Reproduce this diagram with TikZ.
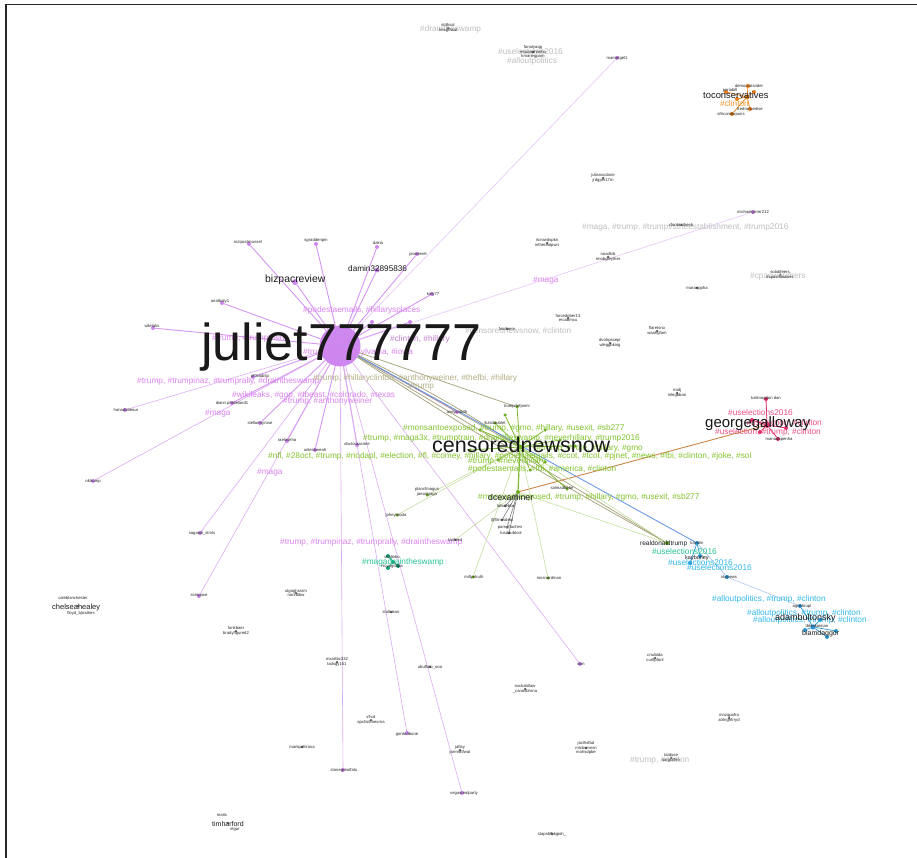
\documentclass[tikz,border=0pt]{standalone}
\usepackage{fontspec}
\setmainfont{Liberation Sans}
\usetikzlibrary{backgrounds}
\pgfdeclarelayer{bottom}
\pgfsetlayers{bottom,background,main}
\definecolor{vnode}{RGB}{205,135,238}
\definecolor{vedge}{RGB}{214,150,243}
\definecolor{vtag}{RGB}{218,130,238}
\definecolor{gtag}{RGB}{130,195,45}
\definecolor{gnode}{RGB}{110,170,30}
\definecolor{gedge}{RGB}{125,185,45}
\definecolor{greytag}{RGB}{190,190,190}
\definecolor{oliveedge}{RGB}{165,160,120}
\definecolor{olivetag}{RGB}{180,175,135}
\definecolor{bedge}{RGB}{95,145,230}
\definecolor{brownedge}{RGB}{205,135,75}
\definecolor{rtag}{RGB}{235,80,130}
\definecolor{rnode}{RGB}{225,40,100}
\definecolor{otag}{RGB}{245,150,50}
\definecolor{onode}{RGB}{235,125,20}
\definecolor{ctag}{RGB}{50,185,235}
\definecolor{cnode}{RGB}{40,150,210}
\definecolor{ttag}{RGB}{40,195,150}
\definecolor{tnode}{RGB}{20,160,120}
\tikzset{
 dot/.style={circle,inner sep=0pt,minimum size=#1},
 vd/.style={dot=4pt,fill=vnode},
 gd/.style={dot=3.5pt,fill=gnode},
 kd/.style={dot=2.5pt,fill=black!65},
 rd/.style={dot=4pt,fill=rnode},
 od/.style={dot=4pt,fill=onode},
 cd/.style={dot=4pt,fill=cnode},
 td/.style={dot=4pt,fill=tnode},
 lab/.style={font=\fontsize{4.2}{4.6}\selectfont,inner sep=0pt,align=center,text=black!85},
 tag/.style={font=\fontsize{8.3}{9}\selectfont,inner sep=0pt,anchor=west},
 big/.style={inner sep=0pt,anchor=base west,text=black!90},
 ve/.style={draw=vedge,line width=0.9pt},
 vel/.style={draw=vedge!55,line width=0.6pt},
 ge/.style={draw=gedge,line width=0.8pt},
 gel/.style={draw=gedge!45,line width=0.6pt},
 oe/.style={draw=oliveedge,line width=0.7pt},
}
\begin{document}
\begin{tikzpicture}[x=1pt,y=-1pt]
\useasboundingbox (0,0) rectangle (917,858);
\begin{pgfonlayer}{bottom}
\fill[white] (0,0) rectangle (917,858);
\end{pgfonlayer}
\draw[line width=1.1pt,black!85] (6,858) -- (6,4.5) -- (917,4.5);

% ---------- hub nodes ----------
\node[circle,fill=vnode,minimum size=41pt,inner sep=0pt] (J) at (340,346) {};
\node[dot=5pt,fill=gnode] (C) at (520,447) {};
\node[dot=4pt,fill=gnode] (dce) at (518,492) {};
\node[dot=4pt,fill=gnode] (rdt) at (667,543) {};
\node[cd] (kay) at (697,543) {};

% ---------- violet nodes ----------
\node[vd] (v1) at (316,244) {};
\node[vd] (v2) at (377,247) {};
\node[vd] (v3) at (249,244) {};
\node[dot=6pt,fill=vnode] (biz) at (295,282) {};
\node[dot=5pt,fill=vnode] (dam) at (377,270) {};
\node[vd] (v6) at (417,254) {};
\node[vd] (v7) at (432,294) {};
\node[vd] (v8) at (222,303) {};
\node[vd] (v9) at (153,328) {};
\node[vd] (v10) at (125,410) {};
\node[vd] (v11) at (93,481) {};
\node[vd] (v12) at (253,377) {};
\node[vd] (v13) at (232,403) {};
\node[vd] (v14) at (260,423) {};
\node[vd] (v15) at (287,441) {};
\node[vd] (v16) at (315,450) {};
\node[vd] (v17) at (357,445) {};
\node[vd] (v18) at (200,533) {};
\node[vd] (v19) at (199,596) {};
\node[vd] (v20) at (343,770) {};
\node[vd] (v21) at (407,733) {};
\node[vd] (v22) at (462,793) {};
\node[vd] (v23) at (580,664) {};
\node[vd] (v24) at (617,58) {};
\node[vd] (v25) at (753,212) {};
\node[vd] (v26) at (457,412) {};
\node[vd] (v27) at (372,322) {};
\node[vd] (v28) at (410,322) {};

% ---------- green nodes ----------
\node[gd] (g1) at (517,407) {};
\node[gd] (g2) at (495,423) {};
\node[gd] (g3) at (480,430) {};
\node[gd] (g4) at (545,430) {};
\node[gd] (g5) at (567,489) {};
\node[gd] (g6) at (427,495) {};
\node[gd] (g7) at (397,515) {};
\node[gd] (g8) at (473,577) {};
\node[gd] (g9) at (548,578) {};
\node[gd] (g10) at (560,440) {};
\node[gd] (g11) at (498,460) {};
\node[gd] (g12) at (545,462) {};
\node[gd] (g13) at (470,450) {};
\node[gd] (g14) at (575,446) {};
\node[gd] (g15) at (530,470) {};
\node[gd] (g16) at (505,415) {};

% ---------- black cluster under dcexaminer ----------
\node[kd] (b1) at (505,506) {};
\node[kd] (b2) at (502,520) {};
\node[kd] (b3) at (507,527) {};
\node[kd] (b4) at (509,533) {};

% ---------- teal cluster ----------
\node[td] (t1) at (388,556) {};
\node[td] (t2) at (393,562) {};
\node[td] (t3) at (388,568) {};
\node[td] (t4) at (398,566) {};

% ---------- red cluster ----------
\node[rd] (r1) at (766,399) {};
\node[dot=6pt,fill=rnode] (r2) at (767,425) {};
\node[rd] (r3) at (778,439) {};
\node[rd] (r4) at (752,420) {};
\node[rd] (r5) at (786,428) {};
\node[rd] (r6) at (760,432) {};

% ---------- orange cluster ----------
\node[od] (o1) at (748,86) {};
\node[dot=5pt,fill=onode] (o2) at (747,97) {};
\node[od] (o3) at (737,99) {};
\node[od] (o4) at (754,92) {};
\node[od] (o5) at (750,109) {};
\node[od] (o6) at (732,114) {};
\node[od] (o7) at (726,92) {};

% ---------- cyan cluster ----------
\node[cd] (c2) at (700,556) {};
\node[cd] (c10) at (690,563) {};
\node[cd] (c3) at (727,577) {};
\node[cd] (c4) at (800,606) {};
\node[dot=5pt,fill=cnode] (c5) at (813,627) {};
\node[cd] (c6) at (827,637) {};
\node[cd] (c7) at (820,620) {};
\node[cd] (c8) at (805,630) {};
\node[cd] (c9) at (836,631) {};

% ---------- isolated dark pairs ----------
\node[kd] (i1) at (448,28) {};
\node[kd] (i2) at (533,52) {};
\node[kd] (i3) at (603,178) {};
\node[kd] (i4) at (547,243) {};
\node[kd] (i5) at (608,257) {};
\node[kd] (i6) at (681,225) {};
\node[kd] (i7) at (697,288) {};
\node[kd] (i8) at (780,275) {};
\node[kd] (i9) at (568,318) {};
\node[kd] (i10) at (507,329) {};
\node[kd] (i11) at (657,331) {};
\node[kd] (i12) at (610,343) {};
\node[kd] (i13) at (677,393) {};
\node[kd] (i14) at (78,606) {};
\node[kd] (i15) at (236,631) {};
\node[kd] (i16) at (296,593) {};
\node[kd] (i17) at (391,612) {};
\node[kd] (i18) at (337,662) {};
\node[kd] (i19) at (430,667) {};
\node[kd] (i20) at (371,720) {};
\node[kd] (i21) at (302,747) {};
\node[kd] (i22) at (228,823) {};
\node[kd] (i23) at (525,689) {};
\node[kd] (i24) at (655,658) {};
\node[kd] (i25) at (729,718) {};
\node[kd] (i26) at (460,750) {};
\node[kd] (i27) at (586,748) {};
\node[kd] (i28) at (671,758) {};
\node[kd] (i29) at (552,834) {};
\node[kd] (i30) at (455,540) {};

% ---------- edges ----------
\begin{pgfonlayer}{background}
\foreach \n in {v1,v2,v3,biz,dam,v6,v7,v8,v9,v12,v13,v14,v15,v16,v17,v26,v27,v28}
  \draw[ve] (J) -- (\n);
\foreach \n in {v10,v11,v18,v19,v20,v21,v22,v23}
  \draw[ve,draw=vedge!80,line width=0.6pt] (J) -- (\n);
\draw[vel] (J) -- (v24);
\draw[vel] (J) -- (v25);
\draw[oe] (J) -- (C);
\draw[oe] (J) to[bend left=3] (C);
\draw[oe] (J) -- (g1);
\draw[oe] (J) -- (rdt);
\draw[oe] (J) to[bend right=2] (rdt);
\draw[draw=bedge,line width=0.8pt] (J) -- (kay);
\draw[draw=bedge!60,line width=0.6pt] (kay) -- (c3);
\draw[draw=bedge!50,line width=0.6pt] (c3) -- (c4);
\draw[draw=brownedge,line width=0.9pt] (dce) -- (r2);
\foreach \n in {g1,g2,g3,g4,g10,g11,g12,g13,g14,g15,g16,g5}
  \draw[ge] (C) -- (\n);
\draw[ge,line width=1.2pt] (C) -- (dce);
\foreach \n in {g6,g7,g8,g9}
  \draw[gel] (C) -- (\n);
\draw[gel] (dce) -- (rdt);
\draw[gel] (C) -- (rdt);
\draw[gel] (dce) -- (i30);
\foreach \n in {b1,b2,b3,b4}
  \draw[draw=black!50,line width=0.6pt] (dce) -- (\n);
\foreach \a/\b in {t1/t2,t2/t3,t2/t4,t1/t4}
  \draw[draw=tnode,line width=0.6pt] (\a) -- (\b);
\foreach \n in {r1,r3,r4,r5,r6}
  \draw[draw=rnode,line width=0.8pt] (r2) -- (\n);
\foreach \n in {o1,o3,o4,o5,o6,o7}
  \draw[draw=onode,line width=0.7pt] (o2) -- (\n);
\foreach \n in {c4,c6,c7,c8,c9}
  \draw[draw=cnode,line width=0.7pt] (c5) -- (\n);
\foreach \n in {c2,c10}
  \draw[draw=cnode,line width=0.7pt] (kay) -- (\n);
\end{pgfonlayer}

% ---------- hashtag labels ----------
\node[tag,text=vtag] (h1) at (303,310) {\#podestaemails, \#hillarysplaces};
\node[tag,text=vtag] (h2) at (212,338) {\#trump, \#trumptrain};
\node[tag,text=vtag!75!gray] (h3) at (390,339) {\#clinton, \#hillary};
\node[tag,text=vtag] (h4) at (303,352) {\#trump, \#pennsylvania, \#iowa};
\node[tag,text=vtag] (h5) at (137,381) {\#trump, \#trumpinaz, \#trumprally, \#draintheswamp};
\node[tag,text=vtag] (h6) at (232,395) {\#wikileaks, \#gop, \#tbeast, \#colorado, \#texas};
\node[tag,text=vtag] (h7) at (283,401) {\#trump, \#anthonyweiner};
\node[tag,text=vtag] (h8) at (205,414) {\#maga};
\node[tag,text=vtag] (h9) at (257,473) {\#maga};
\node[tag,text=vtag] (h10) at (280,542) {\#trump, \#trumpinaz, \#trumprally, \#draintheswamp};
\node[tag,text=vtag] (h11) at (533,281) {\#maga};
\node[tag,text=olivetag] (h12) at (313,378) {\#trump, \#hillaryclinton, \#anthonyweiner, \#thefbi, \#hillary};
\node[tag,text=olivetag] (h13) at (408,387) {\#trump};
\node[tag,text=greytag] (h14) at (420,29) {\#draintheswamp};
\node[tag,text=greytag] (h15) at (498,52) {\#uselections2016};
\node[tag,text=greytag] (h16) at (507,61) {\#alloutpolitics};
\node[tag,text=greytag] (h17) at (582,227) {\#maga, \#trump, \#trumpvstheestablishment, \#trump2016};
\node[tag,text=greytag] (h18) at (750,276) {\#cpacwatchers};
\node[tag,text=greytag] (h19) at (465,331) {\#censorednewsnow, \#clinton};
\node[tag,text=greytag] (h20) at (630,760) {\#trump, \#clinton};
\node[tag,text=gtag] (h21) at (403,428) {\#monsantoexposed, \#trump, \#gmo, \#hillary, \#usexit, \#sb277};
\node[tag,text=gtag] (h22) at (363,438) {\#trump, \#maga3x, \#trumptrain, \#draintheswamp, \#neverhillary, \#trump2016};
\node[tag,text=gtag,anchor=east] (h23) at (643,448) {\#trump, \#vote, \#hillary, \#gmo};
\node[tag,text=gtag] (h24) at (268,456) {\#nfl, \#28oct, \#trump, \#nodapl, \#election, \#fl, \#comey, \#hillary, \#podestaemails, \#ccot, \#tcot, \#pjnet, \#news, \#fbi, \#clinton, \#joke, \#sol};
\node[tag,text=gtag] (h25) at (468,461) {\#trump, \#neverhillary};
\node[tag,text=gtag] (h26) at (468,469) {\#podestaemails, \#fbi, \#america, \#clinton};
\node[tag,text=gtag] (h27) at (478,497) {\#monsantoexposed, \#trump, \#hillary, \#gmo, \#usexit, \#sb277};
\node[tag,text=rtag] (h28) at (728,413) {\#uselections2016};
\node[tag,text=rtag,anchor=east] (h29) at (822,423) {\#uselection, \#clinton};
\node[tag,text=rtag] (h30) at (715,432) {\#uselection, \#trump, \#clinton};
\node[tag,text=otag] (h31) at (720,104) {\#clinton};
\node[tag,text=ttag] (h32) at (652,552) {\#uselections2016};
\node[tag,text=ttag] (h33) at (362,562) {\#magadraintheswamp};
\node[tag,text=ctag] (h34) at (668,563) {\#uselections2016};
\node[tag,text=ctag] (h35) at (687,568) {\#uselections2016};
\node[tag,text=ctag] (h36) at (712,599) {\#alloutpolitics, \#trump, \#clinton};
\node[tag,text=ctag] (h37) at (747,613) {\#alloutpolitics, \#trump, \#clinton};
\node[tag,text=ctag] (h38) at (753,620) {\#alloutpolitics, \#trump, \#clinton};

% ---------- big names ----------
\node[big,font=\fontsize{52}{56}\selectfont] (tJ) at (201,360) {juliet777777};
\node[big,font=\fontsize{21.5}{24}\selectfont] (tC) at (432,452) {censorednewsnow};
\node[big,font=\fontsize{15}{17}\selectfont] (tG) at (705,427) {georgegalloway};
\node[big,font=\fontsize{10.4}{12}\selectfont] (tB) at (265,283) {bizpacreview};
\node[big,font=\fontsize{8.2}{10}\selectfont] (tD) at (348,272) {damin32895836};
\node[big,font=\fontsize{9.4}{11}\selectfont] (tT) at (703,99) {toconservatives};
\node[big,font=\fontsize{9}{11}\selectfont] (tA) at (775,620) {adambultonsky};
\node[big,font=\fontsize{7}{8}\selectfont] (tBl) at (802,635) {blamdaggor};
\node[big,font=\fontsize{8.7}{10}\selectfont] (tDc) at (488,500) {dcexaminer};
\node[big,font=\fontsize{6.5}{8}\selectfont] (tR) at (640,545) {realdonaldtrump};
\node[big,font=\fontsize{5.5}{7}\selectfont] (tK) at (685,559) {kayburley};
\node[big,font=\fontsize{7.5}{9}\selectfont] (tCh) at (52,609) {chelseahealey};
\node[big,font=\fontsize{7}{8}\selectfont] (tH) at (212,826) {timharford};

% ---------- small labels ----------
\node[lab] at (316,240) {sgraddenpm};
\node[lab] at (378,243) {dakia};
\node[lab] at (248,242) {inzipcstmonsel};
\node[lab] at (418,254) {pioneerel};
\node[lab] at (433,294) {katy77};
\node[lab] at (220,301) {anatbaly1};
\node[lab] at (152,326) {wiletaks};
\node[lab] at (126,410) {hanadsbeaur};
\node[lab] at (93,481) {oktrump};
\node[lab] at (260,376) {pf0clubtip};
\node[lab] at (232,403) {diann phreeland1};
\node[lab] at (260,423) {stellarmyrose};
\node[lab] at (287,440) {raelaveha};
\node[lab] at (315,450) {unleshweah};
\node[lab] at (357,444) {doctoraasime};
\node[lab] at (202,533) {saganili\_strvls};
\node[lab] at (199,596) {ssmpase};
\node[lab] at (344,770) {stonegreatfatu};
\node[lab] at (407,734) {gordonbone};
\node[lab] at (464,793) {vegasrealparty};
\node[lab] at (581,664) {slim};
\node[lab] at (617,58) {marnetgel1};
\node[lab] at (753,212) {michaelgrrrer212};
\node[lab] at (457,412) {aveyasbdh};
\node[lab] at (517,406) {trumpdefpnmr};
\node[lab] at (495,423) {llulsdoublet};
\node[lab] at (562,488) {salmadbebe};
\node[lab] at (427,492) {plancfmagus\\janwitgaga};
\node[lab] at (396,515) {johnyrooda};
\node[lab] at (474,577) {millyntruth};
\node[lab] at (549,578) {rossnordman};
\node[lab] at (455,540) {tacfeed};
\node[lab] at (506,506) {lalsdebbe};
\node[lab] at (502,520) {@fitnesdeal};
\node[lab] at (510,527) {pam\_fraches};
\node[lab] at (511,533) {lusdoubtcol};
\node[lab] at (392,562) {vitaliobo\\ \\nicyagoftpa};
\node[lab] at (766,398) {kalimagdon dan};
\node[lab] at (779,439) {manadapenha};
\node[lab] at (749,86) {democratsrider};
\node[lab] at (730,90) {poriabill};
\node[lab] at (750,109) {fredrancedise};
\node[lab] at (731,114) {africandiopuns};
\node[lab] at (697,543) {kaystin};
\node[lab] at (729,577) {skynews};
\node[lab] at (802,606) {agnshrupt};
\node[lab] at (817,626) {tbkmkaiman};
% isolated
\node[lab] at (448,28) {stdhsal\\rmsgrhsal};
\node[lab] at (533,52) {fanatyaqg\\rmaaanhanho\\kmariegpam};
\node[lab] at (603,178) {julianxcdane\\jrdgpm17m};
\node[lab] at (547,243) {\#crowdspkn\\intherealpwn};
\node[lab] at (608,257) {noadlvb\\rmobgleyther};
\node[lab] at (681,225) {cfordaathesh};
\node[lab] at (697,288) {maraeppha};
\node[lab] at (780,275) {solabfeers\\\#cpacmwaters};
\node[lab] at (568,318) {forcedriber13\\ercabmcu};
\node[lab] at (507,329) {fuvdaem};
\node[lab] at (657,331) {flaretsno\\waahgfam};
\node[lab] at (610,343) {dvohpssepr\\wleggbking};
\node[lab] at (677,393) {rrodj\\mlegbbon};
\node[lab] at (73,598) {caleblanchester};
\node[lab] at (81,613) {floyd\_bjicstkes};
\node[lab] at (236,631) {funkbaer\\bradyfigured2};
\node[lab] at (296,593) {ulgoghssrm\\norzdibw};
\node[lab] at (391,612) {stultukan};
\node[lab] at (337,662) {mxartbc332\\ladsgy151};
\node[lab] at (430,667) {ubuffalo\_ooo};
\node[lab] at (371,720) {vfrcd\\apcfaitsnexrna};
\node[lab] at (302,747) {markpoltirosa};
\node[lab] at (222,815) {matis};
\node[lab] at (235,829) {elgar};
\node[lab] at (525,689) {sockabtlaw\\\_canasbhrna};
\node[lab] at (655,658) {cnwbtda\\curtlpfanl};
\node[lab] at (729,718) {mnzqpafra\\atrlngnfrryd};
\node[lab] at (460,750) {jaflay\\jarmrdtfwat};
\node[lab] at (586,748) {jaclhsfbd\\mtcbsmnsn\\mahsdpbe};
\node[lab] at (671,758) {tatduse\\sargotfrm};
\node[lab] at (552,834) {stapsbfbkjpoh\_};
\end{tikzpicture}
\end{document}
